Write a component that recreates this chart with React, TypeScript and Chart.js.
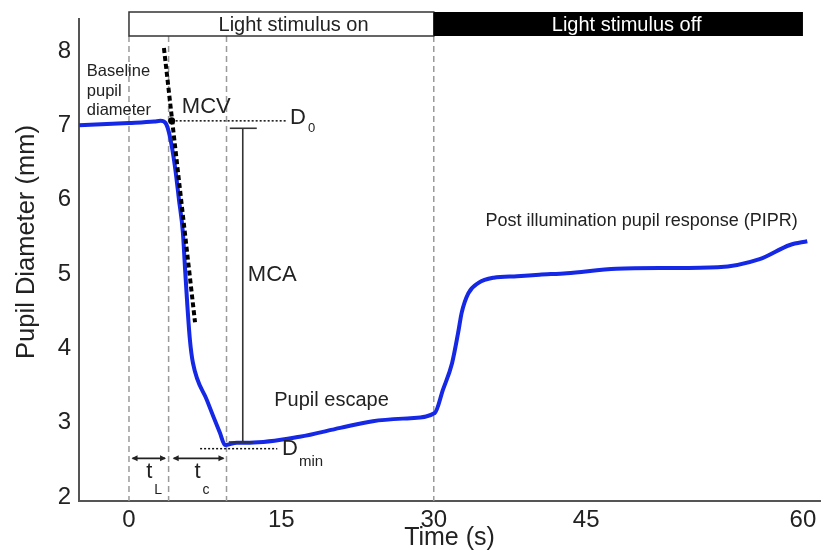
import React, { useEffect, useRef } from 'react';
import { Chart, LinearScale, registerables } from 'chart.js';

// ---- data ----
const timeS = [-4.9, 0, 2.5, 3.1, 3.6, 4.04, 4.53, 4.92, 5.31, 5.51, 5.71, 6.0, 6.3, 7.68, 8.96, 9.45, 10.63, 11.9, 16.8, 20.8, 24.0, 27.7, 30.1, 30.9, 31.8, 32.4, 32.75, 33.4, 34.4, 35.9, 38.2, 40.4, 43.1, 47.1, 50.6, 54.1, 57.0, 59.1, 60.3];
const pupilMm = [7.0, 7.03, 7.05, 7.06, 7.03, 6.84, 6.44, 6.0, 5.55, 5.09, 4.65, 4.11, 3.8, 3.3, 2.86, 2.7, 2.73, 2.73, 2.81, 2.93, 3.02, 3.06, 3.13, 3.44, 3.8, 4.21, 4.48, 4.74, 4.88, 4.95, 4.97, 4.99, 5.01, 5.07, 5.08, 5.09, 5.2, 5.39, 5.44];
const xTicks = [0, 15, 30, 45, 60];
const yTicks = [2, 3, 4, 5, 6, 7, 8];
const phaseMarkersS = [0, 3.9, 9.6, 30];
const stimulusOnS = [0, 30];
const stimulusOffS = [30, 60];
const stimulusLabels = ['Light stimulus on', 'Light stimulus off'];
const stimulusLabelCenterS = [16.2, 47.8];
const mcvTangentT = [3.44, 6.5];
const mcvTangentV = [8.04, 4.35];
const d0Mm = 7.06;
const d0LineT = [4.2, 15.55];
const dMinMm = 2.65;
const dMinLineT = [7.0, 14.6];
const mcaT = 11.2;
const mcaV = [6.96, 2.74];
const latencyArrowT = [0.35, 3.55];
const constrictionArrowT = [4.4, 9.3];
const arrowMm = 2.52;
const yTitle = 'Pupil Diameter (mm)';
const xTitle = 'Time (s)';

// x axis of the figure is drawn stretched after 45 s
const WARP_AT = 45;
const WARP_K = 1.4226;

class WarpScale extends LinearScale {
  static id = 'warp';
  static defaults = LinearScale.defaults;
  warp(v: number) { return v <= WARP_AT ? v : WARP_AT + (v - WARP_AT) * WARP_K; }
  unwarp(u: number) { return u <= WARP_AT ? u : WARP_AT + (u - WARP_AT) / WARP_K; }
  getPixelForValue(value: any) {
    if (value === null || value === undefined || isNaN(value)) return NaN;
    const a = this.warp(this.min), b = this.warp(this.max);
    return this.getPixelForDecimal((this.warp(value) - a) / (b - a));
  }
  getValueForPixel(pixel: number) {
    const a = this.warp(this.min), b = this.warp(this.max);
    return this.unwarp(a + this.getDecimalForPixel(pixel) * (b - a));
  }
}

Chart.register(...registerables, WarpScale as any);

const FAMILY = '"Liberation Sans", Arial, Helvetica, sans-serif';
const TEXT = '#222';

function txt(ctx: CanvasRenderingContext2D, s: string, x: number, y: number, size: number, align: CanvasTextAlign = 'left', color = TEXT) {
  ctx.save();
  ctx.font = `${size}px ${FAMILY}`;
  ctx.fillStyle = color;
  ctx.textAlign = align;
  ctx.textBaseline = 'middle';
  ctx.fillText(s, x, y);
  ctx.restore();
}

function line(ctx: CanvasRenderingContext2D, x1: number, y1: number, x2: number, y2: number, color: string, width: number, dash: number[] = []) {
  ctx.save();
  ctx.strokeStyle = color;
  ctx.lineWidth = width;
  ctx.setLineDash(dash);
  ctx.beginPath();
  ctx.moveTo(x1, y1);
  ctx.lineTo(x2, y2);
  ctx.stroke();
  ctx.restore();
}

function arrow(ctx: CanvasRenderingContext2D, x1: number, x2: number, y: number) {
  line(ctx, x1, y, x2, y, '#222', 1.6);
  ctx.save();
  ctx.fillStyle = '#222';
  ctx.beginPath();
  ctx.moveTo(x1 - 1, y); ctx.lineTo(x1 + 5, y - 3); ctx.lineTo(x1 + 5, y + 3); ctx.closePath();
  ctx.moveTo(x2 + 1, y); ctx.lineTo(x2 - 5, y - 3); ctx.lineTo(x2 - 5, y + 3); ctx.closePath();
  ctx.fill();
  ctx.restore();
}

const overlay = {
  id: 'overlay',
  beforeDatasetsDraw(chart: any) {
    const { ctx, chartArea } = chart;
    const X = (t: number) => chart.scales.x.getPixelForValue(t);
    const barTop = chartArea.top - 7;
    const barBot = chartArea.top + 17;
    // phase markers
    phaseMarkersS.forEach((t) => line(ctx, X(t), barBot, X(t), chartArea.bottom, '#9a9a9a', 1.5, [6, 4]));
    // stimulus bars
    ctx.save();
    ctx.fillStyle = '#fff';
    ctx.fillRect(X(stimulusOnS[0]), barTop, X(stimulusOnS[1]) - X(stimulusOnS[0]), barBot - barTop);
    ctx.strokeStyle = '#333';
    ctx.lineWidth = 1.5;
    ctx.strokeRect(X(stimulusOnS[0]), barTop, X(stimulusOnS[1]) - X(stimulusOnS[0]), barBot - barTop);
    ctx.fillStyle = '#000';
    ctx.fillRect(X(stimulusOffS[0]), barTop, X(stimulusOffS[1]) - X(stimulusOffS[0]), barBot - barTop);
    ctx.restore();
    const mid = (barTop + barBot) / 2 + 1;
    txt(ctx, stimulusLabels[0], X(stimulusLabelCenterS[0]), mid, 20, 'center', '#222');
    txt(ctx, stimulusLabels[1], X(stimulusLabelCenterS[1]), mid, 20, 'center', '#fff');
    // y axis title
    ctx.save();
    ctx.translate(27, 242);
    ctx.rotate(-Math.PI / 2);
    txt(ctx, yTitle, 0, 0, 25.5, 'center');
    ctx.restore();
  },
  afterDatasetsDraw(chart: any) {
    const { ctx } = chart;
    const X = (t: number) => chart.scales.x.getPixelForValue(t);
    const Y = (v: number) => chart.scales.y.getPixelForValue(v);
    // D0 and Dmin reference lines
    line(ctx, X(d0LineT[0]), Y(d0Mm), X(d0LineT[1]), Y(d0Mm), '#111', 1.5, [2, 2]);
    line(ctx, X(dMinLineT[0]), Y(dMinMm), X(dMinLineT[1]), Y(dMinMm), '#111', 1.5, [2, 2]);
    // MCV tangent
    line(ctx, X(mcvTangentT[0]), Y(mcvTangentV[0]), X(mcvTangentT[1]), Y(mcvTangentV[1]), '#000', 4, [5, 3]);
    ctx.save();
    ctx.fillStyle = '#000';
    ctx.beginPath();
    ctx.arc(X(d0LineT[0]), Y(d0Mm), 3.5, 0, Math.PI * 2);
    ctx.fill();
    ctx.restore();
    // MCA bar
    const mx = X(mcaT);
    line(ctx, mx, Y(mcaV[0]), mx, Y(mcaV[1]), '#333', 1.6);
    line(ctx, mx - 13, Y(mcaV[0]), mx + 14, Y(mcaV[0]), '#333', 1.6);
    line(ctx, mx - 14, Y(mcaV[1]), mx + 10, Y(mcaV[1]), '#333', 1.6);
    // latency arrows
    arrow(ctx, X(latencyArrowT[0]), X(latencyArrowT[1]), Y(arrowMm));
    arrow(ctx, X(constrictionArrowT[0]), X(constrictionArrowT[1]), Y(arrowMm));

    // texts
    const bx = X(-4.15);
    txt(ctx, 'Baseline', bx, Y(7.72), 16.5);
    txt(ctx, 'pupil', bx, Y(7.46), 16.5);
    txt(ctx, 'diameter', bx, Y(7.2), 16.5);
    txt(ctx, 'MCV', X(5.2), Y(7.25), 22);
    txt(ctx, 'D', X(15.85), Y(7.1), 22);
    txt(ctx, '0', X(15.85) + 18, Y(7.1) + 11, 13);
    txt(ctx, 'MCA', X(11.7), Y(4.99), 22);
    txt(ctx, 'Pupil escape', X(14.3), Y(3.3), 20);
    txt(ctx, 'D', X(15.06), Y(2.65), 22);
    txt(ctx, 'min', X(15.06) + 17, Y(2.65) + 13, 15);
    txt(ctx, 't', X(1.7), Y(2.34), 22);
    txt(ctx, 'L', X(1.7) + 8, Y(2.34) + 18, 14);
    txt(ctx, 't', X(6.45), Y(2.34), 22);
    txt(ctx, 'c', X(6.45) + 8, Y(2.34) + 18, 14);
    txt(ctx, 'Post illumination pupil response (PIPR)', X(35.1), Y(5.71), 18);
  },
};

export default function App() {
  const ref = useRef<HTMLCanvasElement>(null);
  useEffect(() => {
    if (!ref.current) return;
    const chart = new Chart(ref.current, {
      type: 'line',
      data: {
        datasets: [
          {
            data: timeS.map((t, i) => ({ x: t, y: pupilMm[i] })),
            borderColor: '#1428e6',
            borderWidth: 4,
            pointRadius: 0,
            cubicInterpolationMode: 'monotone',
            fill: false,
          },
        ],
      },
      options: {
        animation: false,
        responsive: false,
        maintainAspectRatio: false,
        layout: { padding: { top: 19, right: 10, left: 0, bottom: 0 } },
        plugins: { legend: { display: false }, tooltip: { enabled: false } },
        scales: {
          x: {
            type: 'warp' as any,
            min: -4.92,
            max: 61.18,
            grid: { display: false, drawTicks: false },
            border: { display: true, color: '#555', width: 2 },
            ticks: { padding: 5, color: TEXT, font: { size: 24, family: FAMILY }, maxRotation: 0, autoSkip: false },
            title: { display: true, text: xTitle, color: TEXT, font: { size: 25, family: FAMILY }, padding: { top: 0, bottom: -3 } },
            afterBuildTicks: (s: any) => { s.ticks = xTicks.map((v) => ({ value: v })); },
            afterFit: (s: any) => { s.height = 49; s.paddingLeft = 0; s.paddingRight = 0; },
          },
          y: {
            type: 'linear',
            min: 1.946,
            max: 8.43,
            grid: { display: false, drawTicks: false },
            border: { display: true, color: '#555', width: 2 },
            ticks: { padding: 8, color: TEXT, font: { size: 24, family: FAMILY } },
            title: { display: false },
            afterBuildTicks: (s: any) => { s.ticks = yTicks.map((v) => ({ value: v })); },
            afterFit: (s: any) => { s.width = 79; s.paddingTop = 0; s.paddingBottom = 0; },
          },
        },
      } as any,
      plugins: [overlay],
    });
    return () => chart.destroy();
  }, []);
  return (
    <div style={{ position: 'fixed', left: 0, top: 0, width: 830, height: 550, background: '#fff' }}>
      <canvas ref={ref} width={830} height={550} style={{ display: 'block' }} />
    </div>
  );
}
